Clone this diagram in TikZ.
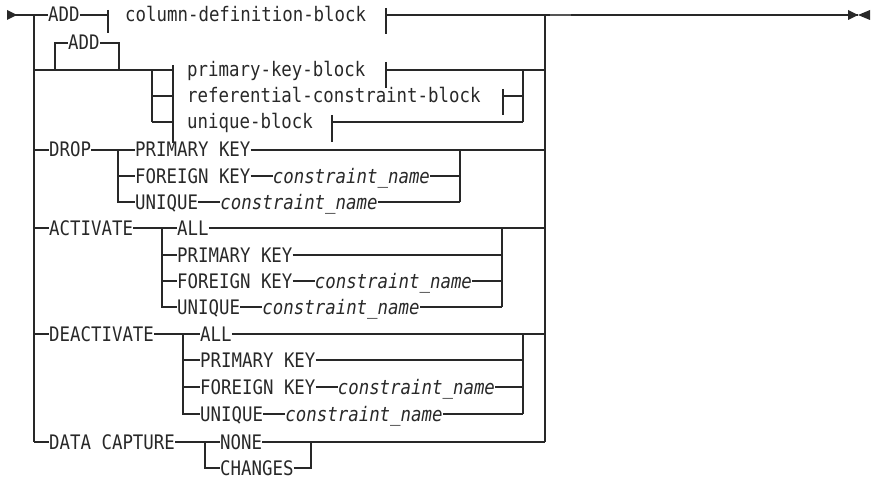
\documentclass[tikz,border=0pt]{standalone}
\usepackage{fontspec}
\usepackage{tikz}
\usetikzlibrary{positioning}
\newfontfamily\railfont[FakeStretch=0.87]{DejaVu Sans Mono}
\definecolor{raildark}{RGB}{40,40,40}
\definecolor{railgrey}{RGB}{85,85,85}
\tikzset{
  kw/.style={inner sep=0pt, anchor=base west, text=raildark,
    font=\railfont\fontsize{20}{22}\selectfont},
  var/.style={kw, font=\railfont\itshape\fontsize{20}{22}\selectfont},
  rail/.style={line width=1.1pt, color=raildark},
  tick/.style={line width=1.1pt, color=raildark},
  tip/.style={fill=raildark}
}
\begin{document}
\begin{tikzpicture}[x=1pt, y=-1pt]
  \useasboundingbox (0,0) rectangle (877,481);
  % junctions on the two trunks
  \coordinate (start) at (7,15);
  \coordinate (trunkL) at (34,15);
  \coordinate (trunkLend) at (34,442);
  \coordinate (trunkR) at (545,15);
  \coordinate (trunkRend) at (545,442);
  \coordinate (finish) at (870,15);
  % main row
  \node[kw] (add) at (48,22) {ADD};
  \node[kw] (coldef) at (125,22) {column-definition-block};
  \fill[tip] (7,10) -- (17,15) -- (7,20) -- cycle;
  \draw[rail] (start) -- (trunkL) -- (add.west |- trunkL);
  \draw[rail] (add.east |- trunkL) -- (108,15);
  \draw[tick] (108,10) -- (108,33);
  \draw[tick] (386,8) -- (386,34);
  \draw[rail] (386,15) -- (trunkR) -- (858,15);
  \draw[line width=1.8pt, railgrey] (550,15) -- (571,15);
  \fill[tip] (848,10) -- (858,15) -- (848,20) -- cycle;
  \fill[tip] (finish) ++(0,-5) -- (858,15) -- (870,20) -- cycle;
  \draw[rail] (trunkL) -- (trunkLend);
  \draw[rail] (trunkR) -- (trunkRend);
  % optional ADD and the constraint blocks
  \node[kw] (addopt) at (68,50) {ADD};
  \draw[rail] (55,70) -- (55,43) -- (addopt.west |- 0,43);
  \draw[rail] (addopt.east |- 0,43) -- (119,43) -- (119,70);
  \draw[rail] (34,70) -- (173,70);
  \draw[rail] (152,70) -- (152,122);
  \draw[rail] (152,96) -- (173,96);
  \draw[rail] (152,122) -- (173,122);
  \draw[tick] (173,65) -- (173,143);
  \node[kw] (pkblock) at (187,77) {primary-key-block};
  \node[kw] (refblock) at (187,103) {referential-constraint-block};
  \node[kw] (uqblock) at (187,129) {unique-block};
  \draw[tick] (386,62) -- (386,88);
  \draw[tick] (503,89) -- (503,115);
  \draw[tick] (332,115) -- (332,142);
  \draw[rail] (386,70) -- (545,70);
  \draw[rail] (503,96) -- (523,96);
  \draw[rail] (332,122) -- (523,122);
  \draw[rail] (523,70) -- (523,122);
  % DROP
  \node[kw] (drop) at (49,157) {DROP};
  \node[kw] (droppk) at (135,157) {PRIMARY KEY};
  \node[kw] (dropfk) at (135,183) {FOREIGN KEY};
  \node[var, base right=22pt of dropfk] (dropfkname) {constraint\_name};
  \node[kw] (dropuq) at (135,209) {UNIQUE};
  \node[var, base right=22pt of dropuq] (dropuqname) {constraint\_name};
  \draw[rail] (34,150) -- (drop.west |- 0,150);
  \draw[rail] (drop.east |- 0,150) -- (118,150) -- (droppk.west |- 0,150);
  \draw[rail] (droppk.east |- 0,150) -- (545,150);
  \draw[rail] (118,150) -- (118,202) -- (dropuq.west |- 0,202);
  \draw[rail] (118,176) -- (dropfk.west |- 0,176);
  \draw[rail] (dropfk.east |- 0,176) -- (dropfkname.west |- 0,176);
  \draw[rail] (dropuq.east |- 0,202) -- (dropuqname.west |- 0,202);
  \draw[rail] (dropfkname.east |- 0,176) -- (460,176);
  \draw[rail] (dropuqname.east |- 0,202) -- (460,202);
  \draw[rail] (460,150) -- (460,202);
  % ACTIVATE
  \node[kw] (act) at (49,235) {ACTIVATE};
  \node[kw] (actall) at (177,235) {ALL};
  \node[kw] (actpk) at (177,262) {PRIMARY KEY};
  \node[kw] (actfk) at (177,288) {FOREIGN KEY};
  \node[var, base right=22pt of actfk] (actfkname) {constraint\_name};
  \node[kw] (actuq) at (177,314) {UNIQUE};
  \node[var, base right=22pt of actuq] (actuqname) {constraint\_name};
  \draw[rail] (34,228) -- (act.west |- 0,228);
  \draw[rail] (act.east |- 0,228) -- (162,228) -- (actall.west |- 0,228);
  \draw[rail] (actall.east |- 0,228) -- (545,228);
  \draw[rail] (162,228) -- (162,307) -- (actuq.west |- 0,307);
  \draw[rail] (162,255) -- (actpk.west |- 0,255);
  \draw[rail] (162,281) -- (actfk.west |- 0,281);
  \draw[rail] (actpk.east |- 0,255) -- (502,255);
  \draw[rail] (actfk.east |- 0,281) -- (actfkname.west |- 0,281);
  \draw[rail] (actfkname.east |- 0,281) -- (502,281);
  \draw[rail] (actuq.east |- 0,307) -- (actuqname.west |- 0,307);
  \draw[rail] (actuqname.east |- 0,307) -- (502,307);
  \draw[rail] (502,228) -- (502,307);
  % DEACTIVATE
  \node[kw] (deact) at (49,341) {DEACTIVATE};
  \node[kw] (deactall) at (200,341) {ALL};
  \node[kw] (deactpk) at (200,367) {PRIMARY KEY};
  \node[kw] (deactfk) at (200,394) {FOREIGN KEY};
  \node[var, base right=22pt of deactfk] (deactfkname) {constraint\_name};
  \node[kw] (deactuq) at (200,421) {UNIQUE};
  \node[var, base right=22pt of deactuq] (deactuqname) {constraint\_name};
  \draw[rail] (34,334) -- (deact.west |- 0,334);
  \draw[rail] (deact.east |- 0,334) -- (183,334) -- (deactall.west |- 0,334);
  \draw[rail] (deactall.east |- 0,334) -- (545,334);
  \draw[rail] (183,334) -- (183,414) -- (deactuq.west |- 0,414);
  \draw[rail] (183,360) -- (deactpk.west |- 0,360);
  \draw[rail] (183,387) -- (deactfk.west |- 0,387);
  \draw[rail] (deactpk.east |- 0,360) -- (523,360);
  \draw[rail] (deactfk.east |- 0,387) -- (deactfkname.west |- 0,387);
  \draw[rail] (deactfkname.east |- 0,387) -- (523,387);
  \draw[rail] (deactuq.east |- 0,414) -- (deactuqname.west |- 0,414);
  \draw[rail] (deactuqname.east |- 0,414) -- (523,414);
  \draw[rail] (523,334) -- (523,414);
  % DATA CAPTURE
  \node[kw] (capture) at (49,449) {DATA CAPTURE};
  \node[kw] (none) at (220,449) {NONE};
  \node[kw] (changes) at (220,475) {CHANGES};
  \draw[rail] (trunkLend) -- (capture.west |- trunkLend);
  \draw[rail] (capture.east |- 0,442) -- (205,442) -- (none.west |- 0,442);
  \draw[rail] (none.east |- 0,442) -- (trunkRend);
  \draw[rail] (205,442) -- (205,468) -- (changes.west |- 0,468);
  \draw[rail] (changes.east |- 0,468) -- (311,468) -- (311,442);
\end{tikzpicture}
\end{document}
